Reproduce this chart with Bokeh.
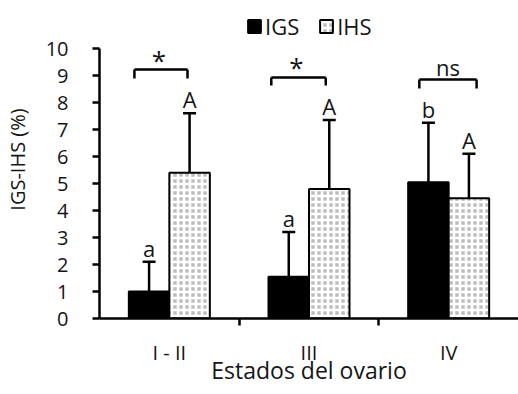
from bokeh.plotting import figure
from bokeh.models import (ColumnDataSource, FixedTicker, Legend, LegendItem,
                          Whisker, TeeHead)
from bokeh.core.properties import value
from bokeh.embed import file_html
from bokeh.resources import INLINE

# ---- data ----
categories = ["I - II", "III", "IV"]
igs_mean = [1.0, 1.55, 5.05]
igs_err = [1.1, 1.65, 2.2]
ihs_mean = [5.4, 4.8, 4.45]
ihs_err = [2.2, 2.55, 1.65]
igs_letters = ["a", "a", "b"]
ihs_letters = ["A", "A", "A"]
sig_labels = ["*", "*", "ns"]
bracket_top = [9.22, 8.93, 8.85]
bracket_bottom = [8.89, 8.63, 8.52]
bracket_left = [0.25, 0.23, 0.29]
bracket_right = [0.63, 0.62, 0.70]
y_ticks = list(range(0, 11))

FONT = "Open Sans"
TXT = "#151515"

n = len(categories)
bw = 0.29
igs_x = [i + 0.5 - bw / 2 for i in range(n)]
ihs_x = [i + 0.5 + bw / 2 for i in range(n)]

src_igs = ColumnDataSource(dict(x=igs_x, top=igs_mean,
                                up=[m + e for m, e in zip(igs_mean, igs_err)],
                                lab=igs_letters))
src_ihs = ColumnDataSource(dict(x=ihs_x, top=ihs_mean,
                                up=[m + e for m, e in zip(ihs_mean, ihs_err)],
                                lab=ihs_letters))

# frame spans the full top of the figure so the legend can sit inside it;
# the y axis itself is bounded to 0..10
p = figure(width=518, height=394, output_backend="svg", toolbar_location=None,
           x_range=(0, 3.0), y_range=(0, 318 / 27.0),
           min_border_left=95, min_border_right=0, min_border_top=0,
           min_border_bottom=76)
p.outline_line_color = None
p.xgrid.visible = False
p.ygrid.visible = False
p.background_fill_color = "white"
p.border_fill_color = "white"

# error bars (upper only)
for src in (src_igs, src_ihs):
    w = Whisker(source=src, base="x", lower="top", upper="up",
                line_color="black", line_width=2.5,
                upper_head=TeeHead(size=13, line_width=2.5, line_color="black"),
                lower_head=None)
    p.add_layout(w)

r_igs = p.vbar(x="x", top="top", width=bw, source=src_igs, fill_color="black",
               line_color="black", line_width=2)
r_ihs = p.vbar(x="x", top="top", width=bw, source=src_ihs, fill_color="#bdbdbd",
               line_color="black", line_width=2,
               hatch_pattern="cross", hatch_color="white",
               hatch_scale=6, hatch_weight=2.5)

# letters
for src in (src_igs, src_ihs):
    p.text(x="x", y="up", text="lab", source=src, text_align="center",
           text_baseline="alphabetic", y_offset=-14, text_font=value(FONT),
           text_font_size="22px", text_color=TXT)

# brackets
bl = [i + b for i, b in enumerate(bracket_left)]
br = [i + b for i, b in enumerate(bracket_right)]
p.segment(x0=bl, y0=bracket_top, x1=br, y1=bracket_top, line_color="black", line_width=2.5)
p.segment(x0=bl, y0=bracket_top, x1=bl, y1=bracket_bottom, line_color="black", line_width=2.5)
p.segment(x0=br, y0=bracket_top, x1=br, y1=bracket_bottom, line_color="black", line_width=2.5)
mid = [(a + b) / 2 for a, b in zip(bl, br)]
stars = [i for i, s in enumerate(sig_labels) if s == "*"]
others = [i for i, s in enumerate(sig_labels) if s != "*"]
p.text(x=[mid[i] - 0.015 for i in stars], y=[bracket_top[i] for i in stars],
       text=[sig_labels[i] for i in stars],
       text_align="center", text_baseline="alphabetic", y_offset=-10,
       text_font=value(FONT), text_font_size="26px", text_color=TXT)
p.text(x=[mid[i] for i in others], y=[bracket_top[i] for i in others],
       text=[sig_labels[i] for i in others],
       text_align="center", text_baseline="alphabetic", y_offset=-13,
       text_font=value(FONT), text_font_size="22px", text_color=TXT)

# axes
p.yaxis.ticker = FixedTicker(ticks=y_ticks, minor_ticks=[])
p.yaxis.bounds = (0, 10)
p.yaxis.axis_label = "IGS-IHS (%)"
p.xaxis.ticker = FixedTicker(ticks=[i + 0.5 for i in range(n)],
                             minor_ticks=[i for i in range(1, n)])
p.xaxis.major_label_overrides = {i + 0.5: c for i, c in enumerate(categories)}
p.xaxis.axis_label = "Estados del ovario"
for ax in (p.xaxis[0], p.yaxis[0]):
    ax.axis_line_width = 2.5
    ax.axis_line_color = "black"
    ax.major_tick_line_width = 2.5
    ax.minor_tick_line_width = 2.5
    ax.major_label_text_font = FONT
    ax.major_label_text_font_size = "20px"
    ax.major_label_text_color = TXT
    ax.axis_label_text_font = FONT
    ax.axis_label_text_font_style = "normal"
    ax.axis_label_text_color = TXT
p.xaxis.axis_label_text_font_size = "23px"
p.yaxis.axis_label_text_font_size = "20px"
p.yaxis.major_tick_out = 7
p.yaxis.major_tick_in = 0
p.yaxis.major_label_standoff = 24
p.yaxis.axis_label_standoff = 12
p.xaxis.major_tick_out = 0
p.xaxis.major_tick_in = 0
p.xaxis.minor_tick_out = 7
p.xaxis.minor_tick_in = 0
p.xaxis.major_label_standoff = 13
p.xaxis.axis_label_standoff = -15

legend = Legend(items=[LegendItem(label="IGS", renderers=[r_igs]),
                       LegendItem(label="IHS", renderers=[r_ihs])],
                orientation="horizontal", location=(147, 277),
                label_text_font=FONT, label_text_font_size="22px",
                label_text_color=TXT,
                glyph_width=16, glyph_height=16, label_standoff=3, spacing=19,
                padding=0, margin=0, border_line_color=None,
                background_fill_alpha=0)
p.add_layout(legend)

open("out.html", "w").write(file_html(p, INLINE))
